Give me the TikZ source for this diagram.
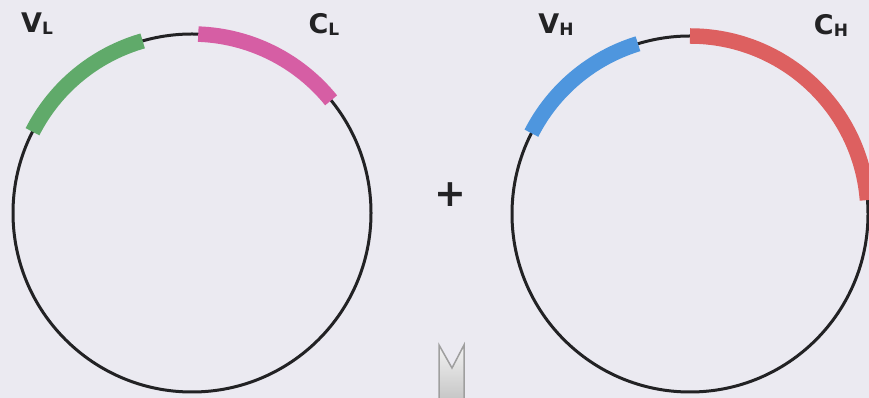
\documentclass[tikz,border=0pt]{standalone}
\usepackage{fontspec}
\newfontfamily\labelfont{DejaVu Sans}
\usetikzlibrary{positioning}

\definecolor{paper}{RGB}{235,234,241}
\definecolor{vlgreen}{RGB}{96,170,106}
\definecolor{clpink}{RGB}{214,94,164}
\definecolor{vhblue}{RGB}{78,150,222}
\definecolor{chred}{RGB}{221,96,96}
\definecolor{ink}{RGB}{34,34,36}

\newcommand{\genelabel}[2]{#1{\fontsize{17}{17}\selectfont\raisebox{-2pt}{#2}}}

\begin{document}
\begin{tikzpicture}[
  x=1pt, y=1pt,
  backbone/.style = {draw=ink, line width=3pt},
  segment/.style  = {line width=15.5pt},
  genetag/.style  = {font=\labelfont\bfseries\fontsize{27}{30}\selectfont, text=ink, inner sep=0pt},
  pointer/.style  = {draw=gray!75, line width=1.5pt, top color=gray!10, bottom color=gray!45}
]

\fill[paper] (0,0) rectangle (869,398);
\useasboundingbox (0,0) rectangle (869,398);

\coordinate (lc) at (192,185);
\coordinate (hc) at (690,184);

% light chain plasmid
\draw[backbone] (lc) circle[radius=179pt];
\draw[segment, vlgreen] ([shift={(153:179pt)}]lc) arc[start angle=153, end angle=106, radius=179pt];
\draw[segment, clpink]  ([shift={(88:179pt)}]lc)  arc[start angle=88,  end angle=39,  radius=179pt];

% heavy chain plasmid
\draw[backbone] (hc) circle[radius=178pt];
\draw[segment, vhblue] ([shift={(153:178pt)}]hc) arc[start angle=153, end angle=107, radius=178pt];
\draw[segment, chred]  ([shift={(90:178pt)}]hc)  arc[start angle=90,  end angle=4.5, radius=178pt];

\node[genetag] (vl) at (37,374) {\genelabel{V}{L}};
\node[genetag] (cl) at (324,374) {\genelabel{C}{L}};
\node[genetag] (vh) at (556,373) {\genelabel{V}{H}};
\node[genetag] (ch) at (831,373) {\genelabel{C}{H}};

\node[font=\labelfont\bfseries\fontsize{38}{38}\selectfont, text=ink, inner sep=0pt] (plus) at (450,203) {+};

% tail of the arrow below
\draw[pointer] (439,-2) -- (439,53) -- (452,30) -- (464,53) -- (464,-2);

\end{tikzpicture}
\end{document}
